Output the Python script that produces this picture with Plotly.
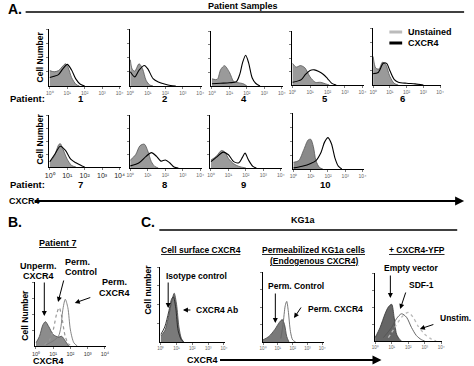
import plotly.graph_objects as go

W, H = 474, 366

# ---- tick labels (log decades) ----
tick_vals = [0, 1, 2, 3, 4]
tick_text = ["10⁰", "10¹", "10²", "10³", "10⁴"]

# ---- Panel A: patient histograms (x = log10 CXCR4, y = relative cell number) ----
p1_unst_x = [0, 0.25, 0.5, 0.75, 0.9, 1.05, 1.25, 1.5, 1.7]
p1_unst_y = [0.27, 0.25, 0.27, 0.35, 0.39, 0.33, 0.15, 0.03, 0]
p1_cx_x = [0, 0.25, 0.5, 0.75, 1.0, 1.25, 1.5, 1.75, 2.0]
p1_cx_y = [0.15, 0.17, 0.2, 0.3, 0.38, 0.28, 0.12, 0.03, 0]

p2_unst_x = [0, 0.1, 0.25, 0.5, 0.7, 0.9, 1.1, 1.3]
p2_unst_y = [0.46, 0.3, 0.26, 0.39, 0.3, 0.1, 0.02, 0]
p2_cx_x = [0, 0.25, 0.5, 0.8, 1.0, 1.3, 1.6, 2.0, 2.3, 2.6]
p2_cx_y = [0.25, 0.16, 0.28, 0.36, 0.3, 0.13, 0.07, 0.03, 0.01, 0]

p4_unst_x = [0, 0.3, 0.5, 0.72, 1.0, 1.25, 1.5, 1.8, 2.0]
p4_unst_y = [0.13, 0.12, 0.3, 0.37, 0.25, 0.08, 0.06, 0.04, 0]
p4_cx_x = [0, 0.5, 1.0, 1.4, 1.6, 1.75, 1.93, 2.1, 2.3, 2.5, 2.75]
p4_cx_y = [0.04, 0.05, 0.06, 0.08, 0.22, 0.42, 0.56, 0.42, 0.15, 0.05, 0]

p5_unst_x = [0, 0.2, 0.45, 0.7, 1.0, 1.3, 1.6, 1.9, 2.1]
p5_unst_y = [0.4, 0.33, 0.36, 0.32, 0.15, 0.05, 0.05, 0.02, 0]
p5_cx_x = [0, 0.5, 0.75, 1.0, 1.25, 1.5, 1.75, 2.0, 2.25, 2.5]
p5_cx_y = [0.05, 0.1, 0.2, 0.27, 0.28, 0.25, 0.2, 0.12, 0.03, 0]

p6_unst_x = [0, 0.15, 0.35, 0.55, 0.75, 1.0, 1.25, 1.5]
p6_unst_y = [0.5, 0.3, 0.28, 0.4, 0.36, 0.15, 0.03, 0]
p6_cx_x = [0, 0.3, 0.6, 0.8, 1.0, 1.25, 1.5, 2.0, 2.5, 3.0]
p6_cx_y = [0.2, 0.22, 0.38, 0.38, 0.25, 0.1, 0.05, 0.03, 0.02, 0]

p7_unst_x = [0, 0.25, 0.5, 0.6, 0.75, 1.0, 1.25, 1.5]
p7_unst_y = [0.1, 0.2, 0.42, 0.45, 0.35, 0.15, 0.03, 0]
p7_cx_x = [0, 0.3, 0.6, 0.9, 1.2, 1.5, 1.8, 2.0]
p7_cx_y = [0.1, 0.25, 0.4, 0.32, 0.15, 0.08, 0.03, 0]

p8_unst_x = [0, 0.3, 0.55, 0.8, 1.0, 1.2, 1.4, 1.6]
p8_unst_y = [0.15, 0.25, 0.42, 0.45, 0.32, 0.12, 0.03, 0]
p8_cx_x = [0, 0.5, 0.9, 1.2, 1.5, 1.75, 2.0, 2.25, 2.5, 2.75]
p8_cx_y = [0.04, 0.1, 0.22, 0.29, 0.22, 0.13, 0.15, 0.1, 0.02, 0]

p9_unst_x = [0, 0.3, 0.6, 0.8, 1.0, 1.3, 1.6, 2.0]
p9_unst_y = [0.15, 0.22, 0.33, 0.3, 0.18, 0.08, 0.03, 0]
p9_cx_x = [0, 0.3, 0.7, 1.0, 1.3, 1.6, 1.8, 1.95, 2.15, 2.4, 2.6]
p9_cx_y = [0.12, 0.2, 0.3, 0.25, 0.12, 0.1, 0.2, 0.28, 0.15, 0.03, 0]

p10_unst_x = [0, 0.3, 0.6, 0.85, 1.0, 1.15, 1.3, 1.5, 1.7]
p10_unst_y = [0.12, 0.15, 0.35, 0.52, 0.53, 0.4, 0.15, 0.03, 0]
p10_cx_x = [0, 0.5, 1.0, 1.3, 1.6, 1.8, 2.0, 2.2, 2.4, 2.6, 2.8]
p10_cx_y = [0.02, 0.05, 0.1, 0.15, 0.3, 0.48, 0.56, 0.45, 0.2, 0.05, 0]

patient_labels = ["1", "2", "4", "5", "6", "7", "8", "9", "10"]

# ---- Panel B: patient 7 ----
b_unperm_x = [0, 0.2, 0.4, 0.55, 0.75, 1.0, 1.3, 1.5, 1.7, 1.9]
b_unperm_y = [0.05, 0.15, 0.33, 0.38, 0.3, 0.18, 0.14, 0.15, 0.08, 0]
b_permctrl_x = [0.5, 0.8, 1.0, 1.2, 1.35, 1.5, 1.7, 1.9, 2.1]
b_permctrl_y = [0.02, 0.1, 0.25, 0.5, 0.6, 0.45, 0.15, 0.03, 0]
b_permcx_x = [0.6, 1.0, 1.3, 1.45, 1.55, 1.7, 1.85, 2.0, 2.2, 2.4]
b_permcx_y = [0.02, 0.08, 0.15, 0.3, 0.55, 0.73, 0.6, 0.25, 0.05, 0]

# ---- Panel C: KG1a ----
c1_ab_x = [0, 0.25, 0.5, 0.7, 0.85, 1.0, 1.15, 1.3, 1.45]
c1_ab_y = [0.08, 0.15, 0.35, 0.55, 0.65, 0.5, 0.2, 0.05, 0]
c1_iso_x = [0, 0.25, 0.5, 0.7, 0.8, 0.95, 1.1, 1.3, 1.45]
c1_iso_y = [0.1, 0.2, 0.4, 0.58, 0.6, 0.45, 0.15, 0.03, 0]

c2_ctrl_x = [0, 0.4, 0.8, 1.1, 1.3, 1.45, 1.6, 1.75]
c2_ctrl_y = [0.03, 0.08, 0.18, 0.28, 0.32, 0.25, 0.08, 0]
c2_cx_x = [1.2, 1.35, 1.5, 1.6, 1.7, 1.85, 2.0, 2.2]
c2_cx_y = [0.05, 0.25, 0.52, 0.58, 0.45, 0.15, 0.03, 0]

c3_empty_x = [0, 0.3, 0.6, 0.8, 1.0, 1.15, 1.3, 1.5, 1.6]
c3_empty_y = [0.05, 0.2, 0.4, 0.5, 0.54, 0.35, 0.1, 0.02, 0]
c3_sdf_x = [0.5, 1.0, 1.3, 1.6, 1.9, 2.2, 2.5, 2.8, 3.0]
c3_sdf_y = [0.05, 0.2, 0.33, 0.4, 0.35, 0.2, 0.08, 0.02, 0]
c3_unstim_x = [0.8, 1.2, 1.6, 2.0, 2.3, 2.6, 3.0, 3.4, 3.7]
c3_unstim_y = [0.05, 0.2, 0.35, 0.42, 0.35, 0.22, 0.1, 0.03, 0]

FONT = "Liberation Sans, Arial, sans-serif"


def px(x):
    return x / W


def py(y):
    return 1 - y / H


# panel geometry in pixels: x0, x1, y_top, y_bottom, tick font size, tick color
panels = [
    (46, 119, 29, 86, 5, "#666"),    # 1
    (128, 201, 29, 86, 5, "#666"),   # 2
    (211, 284, 31, 86, 5, "#666"),   # 4
    (293, 366, 31, 85, 5, "#666"),   # 5
    (375, 445, 28, 85, 5, "#666"),   # 6
    (46, 119, 115, 167, 7, "#222"),  # 7
    (128, 201, 115, 168, 5, "#666"),   # 8
    (210, 283, 115, 168, 5, "#666"),   # 9
    (294, 366, 113, 169, 5, "#666"),   # 10
    (32, 104, 282, 346, 5.5, "#333"),  # B
    (159, 225, 267, 342, 4.5, "#666"),  # C1
    (263, 325, 272, 342, 4.5, "#666"),  # C2
    (377, 446, 273, 341, 4.5, "#666"),  # C3
]

layout = dict(
    width=W, height=H, margin=dict(l=0, r=0, t=0, b=0),
    paper_bgcolor="white", plot_bgcolor="white",
    font=dict(family=FONT, color="black"), showlegend=False,
)
for i, (x0, x1, yt, yb, fs, tc) in enumerate(panels, start=1):
    xa = "xaxis" if i == 1 else f"xaxis{i}"
    ya = "yaxis" if i == 1 else f"yaxis{i}"
    layout[xa] = dict(
        domain=[px(x0), px(x1)], anchor=f"y{i}", range=[-0.03, 4.08],
        tickmode="array", tickvals=tick_vals, ticktext=tick_text,
        showline=True, linecolor="black", linewidth=1, ticks="outside",
        ticklen=2, tickwidth=0.7, tickcolor="#444", showgrid=False, zeroline=False,
        tickfont=dict(size=fs, color=tc, family=FONT), fixedrange=True,
    )
    layout[ya] = dict(
        domain=[py(yb), py(yt)], anchor=f"x{i}", range=[0, 1],
        tickmode="array", tickvals=[0.25, 0.5, 0.75, 1.0],
        showline=True, linecolor="black", linewidth=1, ticks="outside",
        ticklen=2, tickwidth=0.7, tickcolor="#444", showticklabels=False,
        showgrid=False, zeroline=False, fixedrange=True,
    )

fig = go.Figure()


def fill_curve(i, x, y, fillcolor="#9a9a9a", linecolor="#555", width=0.8):
    fig.add_trace(go.Scatter(
        x=x, y=y, xaxis=f"x{i}", yaxis=f"y{i}", mode="lines",
        fill="tozeroy", fillcolor=fillcolor,
        line=dict(color=linecolor, width=width, shape="spline", smoothing=0.8),
        hoverinfo="skip"))


def line_curve(i, x, y, color="black", width=1.2, dash="solid"):
    fig.add_trace(go.Scatter(
        x=x, y=y, xaxis=f"x{i}", yaxis=f"y{i}", mode="lines",
        line=dict(color=color, width=width, shape="spline", smoothing=0.8, dash=dash),
        hoverinfo="skip"))


patient_data = [
    (p1_unst_x, p1_unst_y, p1_cx_x, p1_cx_y),
    (p2_unst_x, p2_unst_y, p2_cx_x, p2_cx_y),
    (p4_unst_x, p4_unst_y, p4_cx_x, p4_cx_y),
    (p5_unst_x, p5_unst_y, p5_cx_x, p5_cx_y),
    (p6_unst_x, p6_unst_y, p6_cx_x, p6_cx_y),
    (p7_unst_x, p7_unst_y, p7_cx_x, p7_cx_y),
    (p8_unst_x, p8_unst_y, p8_cx_x, p8_cx_y),
    (p9_unst_x, p9_unst_y, p9_cx_x, p9_cx_y),
    (p10_unst_x, p10_unst_y, p10_cx_x, p10_cx_y),
]
for i, (ux, uy, cx, cy) in enumerate(patient_data, start=1):
    fc = "#8a8a8a" if i == 9 else "#9a9a9a"
    fill_curve(i, ux, uy, fillcolor=fc)
    line_curve(i, cx, cy, color="black", width=1.1)

# B
fill_curve(10, b_unperm_x, b_unperm_y, fillcolor="#8c8c8c", linecolor="#444")
line_curve(10, b_permctrl_x, b_permctrl_y, color="#999", width=1.2, dash="dot")
line_curve(10, b_permcx_x, b_permcx_y, color="#777", width=0.9)

# C1
fill_curve(11, c1_ab_x, c1_ab_y, fillcolor="#7a7a7a", linecolor="#444")
line_curve(11, c1_iso_x, c1_iso_y, color="#222", width=0.9)
# C2
fill_curve(12, c2_ctrl_x, c2_ctrl_y, fillcolor="#7a7a7a", linecolor="#444")
line_curve(12, c2_cx_x, c2_cx_y, color="#666", width=0.9)
# C3
fill_curve(13, c3_empty_x, c3_empty_y, fillcolor="#666", linecolor="#333")
line_curve(13, c3_unstim_x, c3_unstim_y, color="#bbb", width=1.3, dash="dot")
line_curve(13, c3_sdf_x, c3_sdf_y, color="#555", width=0.9)

ann = []


def txt(x, y, text, size=9, xanchor="center", angle=0, bold=True):
    ann.append(dict(
        x=px(x), y=py(y), xref="paper", yref="paper", text=f"<b>{text}</b>" if bold else text,
        showarrow=False, xanchor=xanchor, yanchor="middle", textangle=angle,
        font=dict(size=size, family=FONT, color="black")))


def arrow(xt, yt, xs, ys, width=1.0, head=2, size=1.0):
    ann.append(dict(
        x=px(xt), y=py(yt), xref="paper", yref="paper", text="",
        showarrow=True, ax=xs - xt, ay=ys - yt, axref="pixel", ayref="pixel",
        arrowhead=head, arrowsize=size, arrowwidth=width, arrowcolor="black",
        standoff=0, startstandoff=0))


# Panel A texts
txt(2, 9, "A.", size=14, xanchor="left")
txt(243, 6, "Patient Samples", size=9)
txt(409, 32, "Unstained", size=9, xanchor="left")
txt(409, 43, "CXCR4", size=9, xanchor="left")
txt(37, 57, "Cell Number", size=8.5, angle=-90)
txt(37, 139, "Cell Number", size=8.5, angle=-90)
txt(44, 99, "Patient:", size=9.5, xanchor="right")
txt(44, 184, "Patient:", size=9.5, xanchor="right")
num_pos = [(78, 99), (163, 99), (244, 99), (327, 99), (405, 99),
           (78, 184), (163, 184), (244, 184), (327, 184)]
for (x, y), lab in zip(num_pos, patient_labels):
    txt(x, y, lab, size=9.5)
txt(3, 201, "CXCR4", size=9, xanchor="left")
arrow(468, 201, 37, 201, width=2.0, head=2, size=0.9)

# Panel B texts
txt(2, 222, "B.", size=14, xanchor="left")
txt(55, 243, "<u>Patient 7</u>", size=9)
txt(35, 266, "Unperm.", size=9)
txt(35, 276, "CXCR4", size=9)
txt(60, 262, "Perm.", size=9, xanchor="left")
txt(60, 272, "Control", size=9, xanchor="left")
txt(112, 282, "Perm.", size=9)
txt(112, 293, "CXCR4", size=9)
txt(21, 315, "Cell Number", size=8.5, angle=-90)
txt(45, 361, "CXCR4", size=9)
arrow(41, 316, 41, 281, width=1.0)
arrow(55, 302, 61, 279, width=1.0)
arrow(72, 303, 89, 297, width=1.0)

# Panel C texts
txt(137, 222, "C.", size=14, xanchor="left")
txt(305, 220, "KG1a", size=9)
txt(200, 250, "<u>Cell surface CXCR4</u>", size=8.5)
txt(315, 250, "<u>Permeabilized KG1a cells</u>", size=8.5)
txt(315, 261, "<u>(Endogenous CXCR4)</u>", size=8.5)
txt(420, 250, "<u>+ CXCR4-YFP</u>", size=8.5)
txt(415, 268, "Empty vector", size=8.5)
txt(146, 290, "Cell number", size=8.5, angle=-90)
txt(196, 276, "Isotype control", size=8.5)
txt(193, 310, "CXCR4 Ab", size=8.5, xanchor="left")
txt(297, 286, "Perm. Control", size=8.5)
txt(307, 309, "Perm. CXCR4", size=8.5, xanchor="left")
txt(410, 285, "SDF-1", size=8.5, xanchor="left")
txt(441, 318, "Unstim.", size=8.5, xanchor="left")
txt(202, 360, "CXCR4", size=9)
arrow(167, 308, 167, 281, width=1.0)
arrow(182, 310, 191, 310, width=1.0)
arrow(276, 323, 276, 292, width=1.0)
arrow(295, 318, 303, 306, width=1.0)
arrow(393, 298, 393, 274, width=1.0)
arrow(403, 309, 409, 291, width=1.0)
arrow(423, 329, 438, 324, width=1.0)
arrow(384, 360, 221, 360, width=2.0, head=2, size=0.9)

layout["annotations"] = ann
layout["shapes"] = [
    dict(type="line", xref="paper", yref="paper", x0=px(22), x1=px(468), y0=py(12), y1=py(12),
         line=dict(color="black", width=1.6)),
    dict(type="line", xref="paper", yref="paper", x0=px(158), x1=px(461), y0=py(230), y1=py(230),
         line=dict(color="black", width=1.6)),
    dict(type="line", xref="paper", yref="paper", x0=px(392), x1=px(405), y0=py(32), y1=py(32),
         line=dict(color="#bbbbbb", width=3)),
    dict(type="line", xref="paper", yref="paper", x0=px(392), x1=px(405), y0=py(43), y1=py(43),
         line=dict(color="black", width=3)),
]

fig.update_layout(**layout)
fig.write_html(
    "out.html",
    config={"displayModeBar": False, "staticPlot": True},
    post_script="document.body.style.margin='0px';document.body.style.overflow='hidden';",
)
